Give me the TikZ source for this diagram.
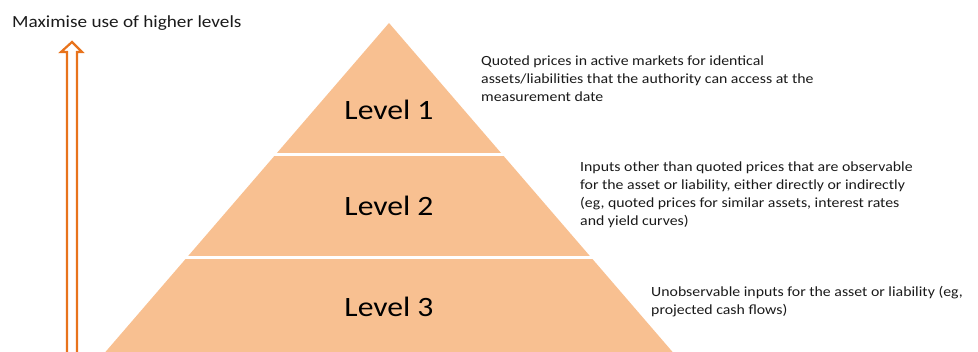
\documentclass[tikz,border=0pt]{standalone}
\usepackage{fontspec}
\setmainfont{Carlito}[FakeStretch=1.13]
\definecolor{pyrfill}{HTML}{F8C091}
\definecolor{arroworange}{HTML}{E8731C}
\definecolor{txt}{HTML}{1A1A1A}
\tikzset{
  levellabel/.style={font=\fontsize{28}{32}\selectfont, text=black, inner sep=0pt},
  desc/.style={font=\fontsize{14}{18}\selectfont, text=txt, align=left, anchor=north west, inner sep=0pt},
  gap/.style={draw=white, line width=3pt}
}
\begin{document}
\begin{tikzpicture}[x=1pt,y=-1pt]
\useasboundingbox (0,0) rectangle (978,352);
% pyramid
\coordinate (apex) at (389,23);
\coordinate (bl) at (105.4,352);
\coordinate (br) at (672.6,352);
\fill[pyrfill] (apex) -- (bl) -- (br) -- cycle;
\draw[gap] (270,155) -- (508,155);
\draw[gap] (180,257.5) -- (598,257.5);
\node[levellabel] (l1) at (389,110) {Level 1};
\node[levellabel] (l2) at (389,206) {Level 2};
\node[levellabel] (l3) at (389,307) {Level 3};
% descriptions
\node[desc] (d1) at (481,56) {Quoted prices in active markets for identical\\assets/liabilities that the authority can access at the\\measurement date};
\node[desc] (d2) at (580,162) {Inputs other than quoted prices that are observable\\for the asset or liability, either directly or indirectly\\(eg, quoted prices for similar assets, interest rates\\and yield curves)};
\node[desc] (d3) at (651,286) {Unobservable inputs for the asset or liability (eg,\\projected cash flows)};
% arrow
\node[font=\fontsize{17}{20}\selectfont, text=txt, anchor=west, inner sep=0pt] (head) at (12,23) {Maximise use of higher levels};
\draw[arroworange, line width=2.2pt, line join=miter] (67,353) -- (67,52) -- (61,52) -- (72,42) -- (82,52) -- (77,52) -- (77,353);
\end{tikzpicture}
\end{document}
